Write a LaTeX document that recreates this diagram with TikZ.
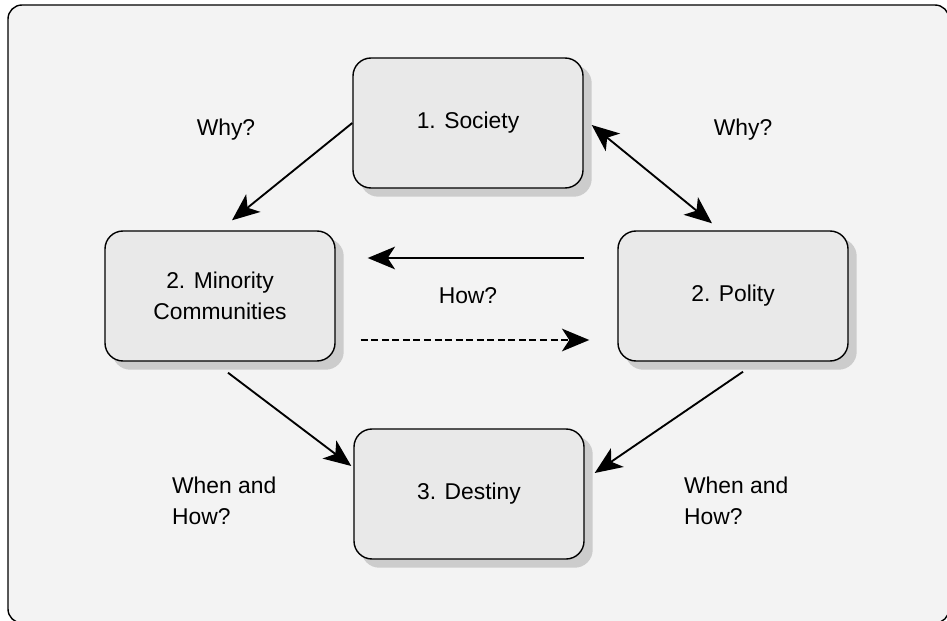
\documentclass[tikz,border=0pt]{standalone}
\usepackage{fontspec}
\setmainfont{Liberation Sans}
\usetikzlibrary{shapes,arrows.meta,positioning,calc,backgrounds}

\definecolor{framegray}{HTML}{F3F3F3}
\definecolor{boxgray}{HTML}{E9E9E9}
\definecolor{shadowgray}{HTML}{CCCCCC}

\begin{document}
\begin{tikzpicture}[x=0.03cm, y=-0.03cm,
    stage/.style={draw, line width=1.2pt, rounded corners=0.54cm, fill=boxgray,
        minimum width=6.9cm, minimum height=3.9cm, align=center,
        font=\fontsize{19.5}{26}\selectfont},
    question/.style={font=\fontsize{19.5}{27}\selectfont, align=left},
    link/.style={line width=1.6pt, -{Stealth[length=0.82cm, width=0.68cm, inset=0.22cm]}}]
    \useasboundingbox (0,0) rectangle (947,621);

    % Stages
    \node[stage] (soc) at (468,123) {1. Society};
    \node[stage] (min) at (220,296) {2. Minority\\Communities};
    \node[stage] (pol) at (733,296) {2. Polity};
    \node[stage] (des) at (469,494) {3. Destiny};

    % Background frame and shadows
    \begin{scope}[on background layer]
        \draw[line width=1.2pt, fill=framegray, rounded corners=0.42cm] (8,5) rectangle (949,623);
        \foreach \n in {soc,min,pol,des}
            \fill[shadowgray, rounded corners=0.54cm] ($(\n.south west)+(8,8)$) rectangle ($(\n.north east)+(8,8)$);
    \end{scope}

    % Connectors
    \draw[link] (soc.west) -- ($(min.north)+(12,-10)$);
    \draw[link, {Stealth[length=0.82cm, width=0.68cm, inset=0.22cm]}-{Stealth[length=0.82cm, width=0.68cm, inset=0.22cm]}]
        ($(soc.east)+(8,2)$) -- ($(pol.north)+(-21,-7)$);
    \draw[link] ($(pol.west)+(-33,-38)$) -- ($(min.east)+(32,-38)$);
    \draw[link, dash pattern=on 6pt off 3pt] ($(min.east)+(25,44)$) -- ($(pol.west)+(-28,44)$);
    \draw[link] ($(min.south)+(8,11)$) -- ($(des.west)+(-2,-28)$);
    \draw[link] ($(pol.south)+(10,10)$) -- ($(des.east)+(10,-21)$);

    % Questions
    \node[question] (qa) at (226,130) {Why?};
    \node[question] (qb) at (743,130) {Why?};
    \node[question] (qc) at (468,296) {How?};
    \node[question, anchor=west] (qd) at (168,501) {When and\\How?};
    \node[question, anchor=west] (qe) at (680,501) {When and\\How?};
\end{tikzpicture}
\end{document}
